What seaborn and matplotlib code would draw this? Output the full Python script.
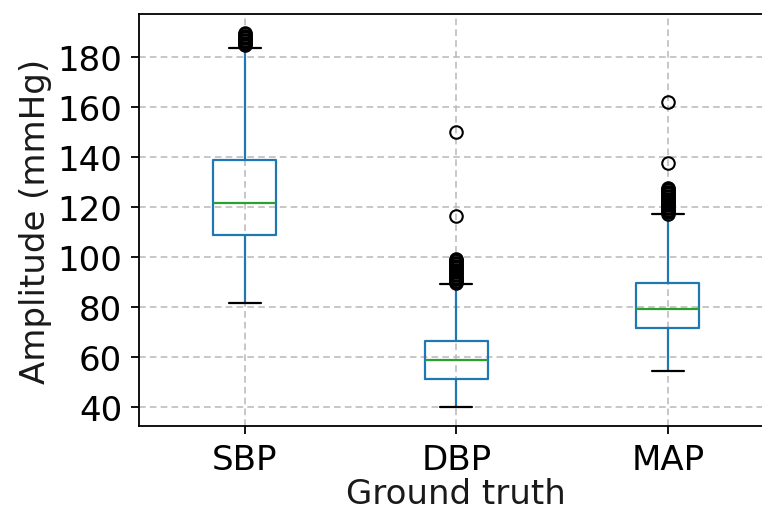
import matplotlib
matplotlib.use("Agg")
import matplotlib.pyplot as plt
import seaborn as sns

# seaborn style first, then override fonts/sizes (set_style resets font.family)
sns.set_style("ticks")
plt.rcParams.update(
    {
        "font.family": "DejaVu Sans",
        "font.size": 24.5,
        "axes.linewidth": 1.3,
        "axes.edgecolor": "black",
        "xtick.major.size": 6,
        "ytick.major.size": 6,
        "xtick.major.width": 1.3,
        "ytick.major.width": 1.3,
        "xtick.major.pad": 6,
        "ytick.major.pad": 6,
        "xtick.color": "black",
        "ytick.color": "black",
        "text.color": "#1a1a1a",
        "axes.labelcolor": "#1a1a1a",
    }
)

groups = ["SBP", "DBP", "MAP"]

# box summary (mmHg)
whislo = [81.6, 40.0, 54.4]
q1 = [108.8, 51.3, 71.7]
med = [121.7, 58.9, 79.3]
q3 = [139.0, 66.4, 89.9]
whishi = [183.8, 89.2, 117.2]

# outliers above upper whisker
fliers_sbp = [184.8, 185.3, 185.9, 186.4, 187.0, 187.6, 188.1, 188.7, 189.2, 189.8]
fliers_dbp = [89.6, 90.1, 90.7, 91.2, 91.8, 92.3, 92.9, 93.4, 94.0, 94.5, 95.1,
              95.6, 96.2, 96.7, 97.3, 97.8, 98.4, 98.9, 99.5, 116.4, 150.3]
fliers_map = [117.5, 118.0, 118.6, 119.1, 119.7, 120.2, 120.8, 121.3, 121.9, 122.4,
              123.0, 123.5, 124.1, 124.6, 125.2, 125.7, 126.3, 126.8, 127.4, 127.9,
              137.7, 162.0]
fliers = [fliers_sbp, fliers_dbp, fliers_map]

stats = []
for i, g in enumerate(groups):
    stats.append(
        {
            "label": g,
            "whislo": whislo[i],
            "q1": q1[i],
            "med": med[i],
            "q3": q3[i],
            "whishi": whishi[i],
            "fliers": fliers[i],
        }
    )

fig = plt.figure(figsize=(7.62, 5.10), dpi=100)
ax = fig.add_axes([139 / 762, 83 / 510, 634.5 / 762, 412 / 510])

blue = "#1f77b4"
ax.bxp(
    stats,
    positions=[1, 2, 3],
    widths=0.3,
    boxprops={"color": blue, "linewidth": 1.6},
    whiskerprops={"color": blue, "linewidth": 1.6},
    capprops={"color": "black", "linewidth": 1.6},
    medianprops={"color": "#2ca02c", "linewidth": 1.6},
    flierprops={"marker": "o", "markerfacecolor": "none", "markeredgecolor": "black",
                "markersize": 9, "markeredgewidth": 1.5},
)

ax.set_xlim(0.5, 3.5)
ax.set_ylim(32.5, 197.3)
ax.set_yticks([40, 60, 80, 100, 120, 140, 160, 180])
ax.grid(True, linestyle=(0, (4, 2.5)), color="#bdbdbd", linewidth=1.2)
ax.set_axisbelow(True)
ax.set_xlabel("Ground truth", labelpad=1)
ax.set_ylabel("Amplitude (mmHg)")

fig.savefig("out.png", dpi=100)
